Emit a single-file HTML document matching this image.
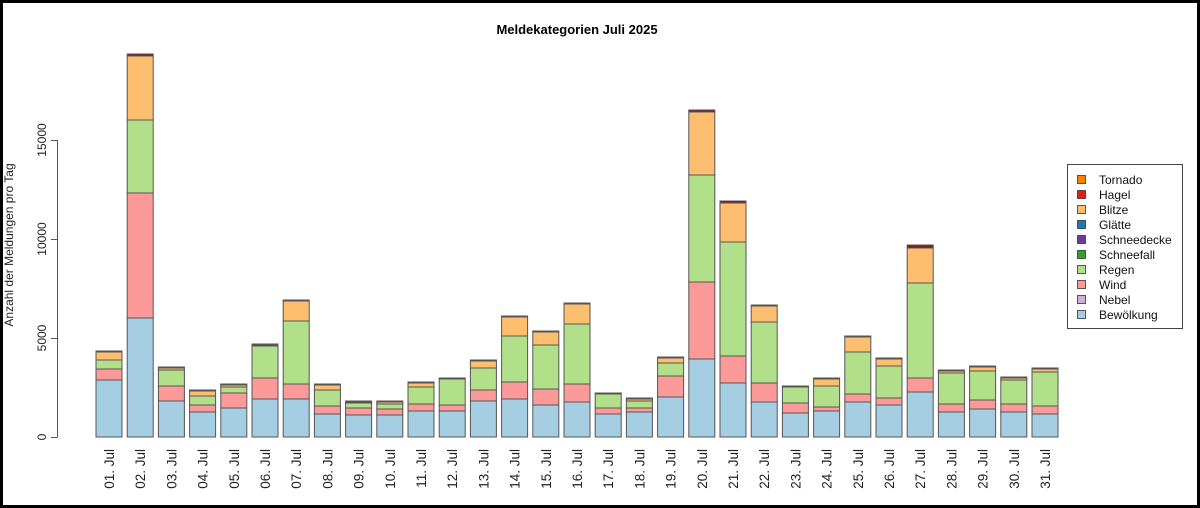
<!DOCTYPE html>
<html><head><meta charset="utf-8"><style>
html,body{margin:0;padding:0;background:#fff}
svg{display:block;font-family:"Liberation Sans",Arial,sans-serif}
</style></head><body>
<svg id="c" width="1200" height="508" viewBox="0 0 1200 508" xmlns="http://www.w3.org/2000/svg">
<rect x="1.5" y="1.5" width="1197" height="505" fill="#fff" stroke="#000" stroke-width="3"/>
<text x="577" y="34" text-anchor="middle" font-size="13" font-weight="bold">Meldekategorien  Juli 2025</text>
<g stroke="#555" stroke-width="1" fill="none">
<line x1="57.5" y1="140" x2="57.5" y2="437"/>
<line x1="51" y1="437.5" x2="57.5" y2="437.5"/>
<line x1="51" y1="338.5" x2="57.5" y2="338.5"/>
<line x1="51" y1="239.5" x2="57.5" y2="239.5"/>
<line x1="51" y1="140.5" x2="57.5" y2="140.5"/>
</g>
<g font-size="12" fill="#222" text-anchor="middle">
<text transform="translate(46,437) rotate(-90)">0</text>
<text transform="translate(46,338) rotate(-90)">5000</text>
<text transform="translate(46,239) rotate(-90)">10000</text>
<text transform="translate(46,140) rotate(-90)">15000</text>
<text transform="translate(13,245) rotate(-90)">Anzahl der  Meldungen pro Tag</text>
</g>
<g id="bars"></g>
<g font-size="13.5" fill="#222" text-anchor="end">
<text transform="translate(114,449) rotate(-90)">01. Jul</text>
<text transform="translate(145.2,449) rotate(-90)">02. Jul</text>
<text transform="translate(176.4,449) rotate(-90)">03. Jul</text>
<text transform="translate(207.6,449) rotate(-90)">04. Jul</text>
<text transform="translate(238.8,449) rotate(-90)">05. Jul</text>
<text transform="translate(270,449) rotate(-90)">06. Jul</text>
<text transform="translate(301.2,449) rotate(-90)">07. Jul</text>
<text transform="translate(332.4,449) rotate(-90)">08. Jul</text>
<text transform="translate(363.6,449) rotate(-90)">09. Jul</text>
<text transform="translate(394.8,449) rotate(-90)">10. Jul</text>
<text transform="translate(426,449) rotate(-90)">11. Jul</text>
<text transform="translate(457.2,449) rotate(-90)">12. Jul</text>
<text transform="translate(488.4,449) rotate(-90)">13. Jul</text>
<text transform="translate(519.6,449) rotate(-90)">14. Jul</text>
<text transform="translate(550.8,449) rotate(-90)">15. Jul</text>
<text transform="translate(582,449) rotate(-90)">16. Jul</text>
<text transform="translate(613.2,449) rotate(-90)">17. Jul</text>
<text transform="translate(644.4,449) rotate(-90)">18. Jul</text>
<text transform="translate(675.6,449) rotate(-90)">19. Jul</text>
<text transform="translate(706.8,449) rotate(-90)">20. Jul</text>
<text transform="translate(738,449) rotate(-90)">21. Jul</text>
<text transform="translate(769.2,449) rotate(-90)">22. Jul</text>
<text transform="translate(800.4,449) rotate(-90)">23. Jul</text>
<text transform="translate(831.6,449) rotate(-90)">24. Jul</text>
<text transform="translate(862.8,449) rotate(-90)">25. Jul</text>
<text transform="translate(894,449) rotate(-90)">26. Jul</text>
<text transform="translate(925.2,449) rotate(-90)">27. Jul</text>
<text transform="translate(956.4,449) rotate(-90)">28. Jul</text>
<text transform="translate(987.6,449) rotate(-90)">29. Jul</text>
<text transform="translate(1018.8,449) rotate(-90)">30. Jul</text>
<text transform="translate(1050,449) rotate(-90)">31. Jul</text>
</g>
<rect x="1067.5" y="164.5" width="115" height="164" fill="#fff" stroke="#444"/>
<g stroke="#333" stroke-width="0.8">
<rect x="1077.5" y="175.5" width="8" height="8" fill="#FF7F00"/>
<rect x="1077.5" y="190.5" width="8" height="8" fill="#E31A1C"/>
<rect x="1077.5" y="205.5" width="8" height="8" fill="#FDBF6F"/>
<rect x="1077.5" y="220.5" width="8" height="8" fill="#1F78B4"/>
<rect x="1077.5" y="235.5" width="8" height="8" fill="#6A3D9A"/>
<rect x="1077.5" y="250.5" width="8" height="8" fill="#33A02C"/>
<rect x="1077.5" y="265.5" width="8" height="8" fill="#B2DF8A"/>
<rect x="1077.5" y="280.5" width="8" height="8" fill="#FB9A99"/>
<rect x="1077.5" y="295.5" width="8" height="8" fill="#CAB2D6"/>
<rect x="1077.5" y="310.5" width="8" height="8" fill="#A6CEE3"/>
</g>
<g font-size="12" fill="#111">
<text x="1099" y="184">Tornado</text>
<text x="1099" y="199">Hagel</text>
<text x="1099" y="214">Blitze</text>
<text x="1099" y="229">Glätte</text>
<text x="1099" y="244">Schneedecke</text>
<text x="1099" y="259">Schneefall</text>
<text x="1099" y="274">Regen</text>
<text x="1099" y="289">Wind</text>
<text x="1099" y="304">Nebel</text>
<text x="1099" y="319">Bewölkung</text>
</g>
</svg>
<script>
var d=[[380,369,360,352,351],[318,193,120,56,54],[401,386,370,368,367],[412,405,396,391,390],[408,393,387,385,384],
[399,378,346,345,344],[399,384,321,301,300],[414,406,390,385,384],[415,408,403,402,401],[415,409,404,402,401],
[411,404,387,383,382],[411,405,379,379,378],[401,390,368,361,360],[399,382,336,317,316],[405,389,345,332,331],
[402,384,324,304,303],[414,408,394,394,393],[412,408,401,399,398],[397,376,363,358,357],[359,282,175,112,110],
[383,356,242,203,201],[402,383,322,306,305],[413,403,387,387,386],[411,407,386,379,378],[402,394,352,337,336],
[405,398,366,359,358],[392,378,283,248,245],[412,404,373,371,370],[409,400,371,367,366],[412,404,380,378,377],[414,406,372,369,368]];
var cols=["#A6CEE3","#FB9A99","#B2DF8A","#FDBF6F","#7a1a1a"];
var g=document.getElementById("bars"),s="";
d.forEach(function(b,i){var x=96+i*31.2,bot=437;
b.forEach(function(t,j){var h=bot-t;if(h>0){s+='<rect x="'+x.toFixed(1)+'" y="'+t+'" width="26" height="'+h+'" fill="'+cols[j]+'" stroke="#555" stroke-width="1"/>';}bot=t;});});
g.innerHTML=s;
</script>
</body></html>
